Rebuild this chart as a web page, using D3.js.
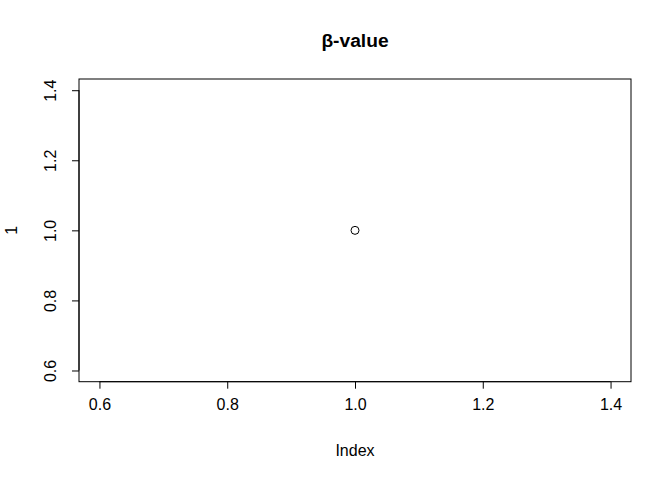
<!DOCTYPE html>
<html><head><meta charset="utf-8">
<script src="https://cdn.jsdelivr.net/npm/d3@7"></script>
<style>body{margin:0;background:#fff}</style>
</head><body>
<script>
const xValues = [1];
const yValues = [1];
const xTicks = [0.6, 0.8, 1.0, 1.2, 1.4];
const yTicks = [0.6, 0.8, 1.0, 1.2, 1.4];
const title = "β-value";
const xLabel = "Index";
const yLabel = "1";

const W = 672, H = 480;
const m = {left: 79, right: 41, top: 79, bottom: 98.3};
const svg = d3.select("body").append("svg").attr("width", W).attr("height", H)
  .style("font-family", "Liberation Sans, Arial, sans-serif");

const x = d3.scaleLinear().domain([0.568, 1.432]).range([m.left, W - m.right]);
const y = d3.scaleLinear().domain([0.568, 1.432]).range([H - m.bottom, m.top]);

svg.append("rect").attr("x", m.left).attr("y", m.top)
  .attr("width", W - m.left - m.right).attr("height", H - m.top - m.bottom)
  .attr("fill", "none").attr("stroke", "#000").attr("stroke-width", 1);

const xa = svg.append("g").attr("transform", `translate(0,${H - m.bottom})`)
  .call(d3.axisBottom(x).tickValues(xTicks).tickFormat(d3.format(".1f")).tickSize(7).tickPadding(10));
xa.select(".domain").attr("d", `M${x(0.6)},0H${x(1.4)}`);
xa.selectAll("text").attr("font-size", 16).attr("fill", "#000");

const ya = svg.append("g").attr("transform", `translate(${m.left},0)`)
  .call(d3.axisLeft(y).tickValues(yTicks).tickFormat(d3.format(".1f")).tickSize(7));
ya.select(".domain").attr("d", `M0,${y(0.6)}V${y(1.4)}`);
ya.selectAll("text").attr("font-size", 16).attr("fill", "#000")
  .attr("x", null).attr("dy", null)
  .attr("text-anchor", "middle")
  .attr("transform", d => `translate(-23,0) rotate(-90)`);
svg.selectAll(".domain, .tick line").attr("stroke", "#000");
svg.selectAll(".tick text").attr("font-family", "Liberation Sans, Arial, sans-serif");

svg.selectAll("circle.pt").data(xValues.map((v, i) => [v, yValues[i]])).enter()
  .append("circle").attr("class", "pt")
  .attr("cx", d => x(d[0])).attr("cy", d => y(d[1])).attr("r", 4)
  .attr("fill", "none").attr("stroke", "#000").attr("stroke-width", 1);

svg.append("text").attr("x", (m.left + W - m.right) / 2).attr("y", 47)
  .attr("text-anchor", "middle").attr("font-size", 19.2).attr("font-weight", "bold").text(title);
svg.append("text").attr("x", (m.left + W - m.right) / 2).attr("y", 456)
  .attr("text-anchor", "middle").attr("font-size", 16).text(xLabel);
svg.append("text").attr("transform", `translate(17,${(m.top + H - m.bottom) / 2}) rotate(-90)`)
  .attr("text-anchor", "middle").attr("font-size", 16).text(yLabel);
</script>
</body></html>
